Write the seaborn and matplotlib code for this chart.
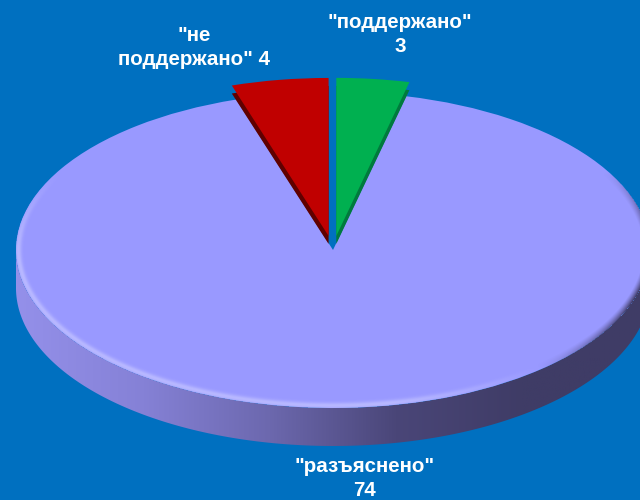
import numpy as np
import matplotlib
matplotlib.use('Agg')
import matplotlib.pyplot as plt
from matplotlib.patches import Polygon
import seaborn as sns

names = ['"поддержано"', '"разъяснено"', '"не\nподдержано"']
values = [3, 74, 4]
joiners = ['\n', '\n', ' ']
label_xy = [(400, 34.5), (365, 478.5), (194, 47.5)]

face_colors = ['#00B050', '#9999FF', '#C00000']
side_colors = ['#007A3D', '#9999FF', '#600000']
wall_stops = ['#9490EA', '#8581D6', '#6C68AE', '#4A4678', '#3F3C66', '#3F3C66']
bg = '#0070C0'

W, H = 640, 500
cx, cy = 333, 250      # ellipse centre, pixels
a, b = 317, 158        # ellipse half axes, pixels
depth = 38 / b
side_drop = 8 / b
pop = 0.09

sns.set_theme(style='white')
plt.rcParams['font.family'] = ['Liberation Sans', 'DejaVu Sans']

fig = plt.figure(figsize=(W / 100, H / 100), dpi=100, facecolor=bg)
ax = fig.add_axes([0, 0, 1, 1])
ax.set_facecolor(bg)

xlim = (-cx / a, (W - cx) / a)
ylim = ((cy - H) / b, cy / b)

# outer wall of the big slice, horizontal gradient clipped to the rim band
t = np.linspace(np.pi, 2 * np.pi, 300)
rim = np.r_[np.c_[np.cos(t), np.sin(t)], np.c_[np.cos(t[::-1]), np.sin(t[::-1]) - depth]]
wall_cmap = sns.blend_palette(wall_stops, as_cmap=True)
wall = ax.imshow(np.linspace(0, 1, 256)[None, :], cmap=wall_cmap, aspect='auto',
                 extent=(-1, 1, -1.5, 0.1), zorder=1)
wall.set_clip_path(Polygon(rim, transform=ax.transData))

# top of the big slice
big = ax.pie(values, colors=sns.color_palette(face_colors), startangle=90, counterclock=False,
             wedgeprops={'linewidth': 0, 'zorder': 2})[0]
big[0].set_visible(False)
big[2].set_visible(False)

# soft bevel along the front edge
px, py = np.meshgrid(np.arange(W) + 0.5, np.arange(H) + 0.5)
ex, ey = (px - cx) / a, (cy - py) / b
r = np.hypot(ex, ey)
grad = np.hypot(ex / a, ey / b) / np.maximum(r, 1e-6)
d = (1 - r) / np.maximum(grad, 1e-6)
ang = np.arctan2(ey, ex)
nx, ny = np.cos(ang), np.sin(ang)
dot = -0.75 * nx - 0.65 * ny
front = np.clip((0.5 - ny) / 0.5, 0, 1)
glow = np.clip(dot * 2, 0, 1) * front * np.exp(-((d - 2.5) / 3) ** 2) * 0.6
shade = np.clip(-dot * 2, 0, 1) * front * np.clip(1 - d / 7, 0, 1) ** 1.3
inside = r <= 1
overlay = np.zeros((H, W, 4))
overlay[..., :3] = np.array([205, 205, 255]) / 255
dark = shade > glow
overlay[dark, 0] = 62 / 255
overlay[dark, 1] = 58 / 255
overlay[dark, 2] = 100 / 255
overlay[..., 3] = np.where(inside, np.maximum(glow, shade), 0)
ax.imshow(overlay, aspect='auto', extent=(*xlim, ylim[0], ylim[1]), zorder=3)

# two pulled out slices, dark cut side then the top
sides = ax.pie(values, colors=sns.color_palette(side_colors), startangle=90, counterclock=False,
               explode=[pop, 0, pop], center=(0, -side_drop),
               wedgeprops={'linewidth': 0, 'zorder': 4})[0]
sides[1].set_visible(False)
tops = ax.pie(values, colors=sns.color_palette(face_colors), startangle=90, counterclock=False,
              explode=[pop, 0, pop], wedgeprops={'linewidth': 0, 'zorder': 5})[0]
tops[1].set_visible(False)

ax.set_aspect('auto')
ax.set_xlim(*xlim)
ax.set_ylim(*ylim)
ax.axis('off')

for name, val, sep, (lx, ly) in zip(names, values, joiners, label_xy):
    fig.text(lx / W, 1 - ly / H, f'{name}{sep}{val}', color='white', fontsize=14.8, fontweight='bold',
             ha='center', va='center', linespacing=1.38)

fig.savefig('out.png', dpi=100, facecolor=bg)
